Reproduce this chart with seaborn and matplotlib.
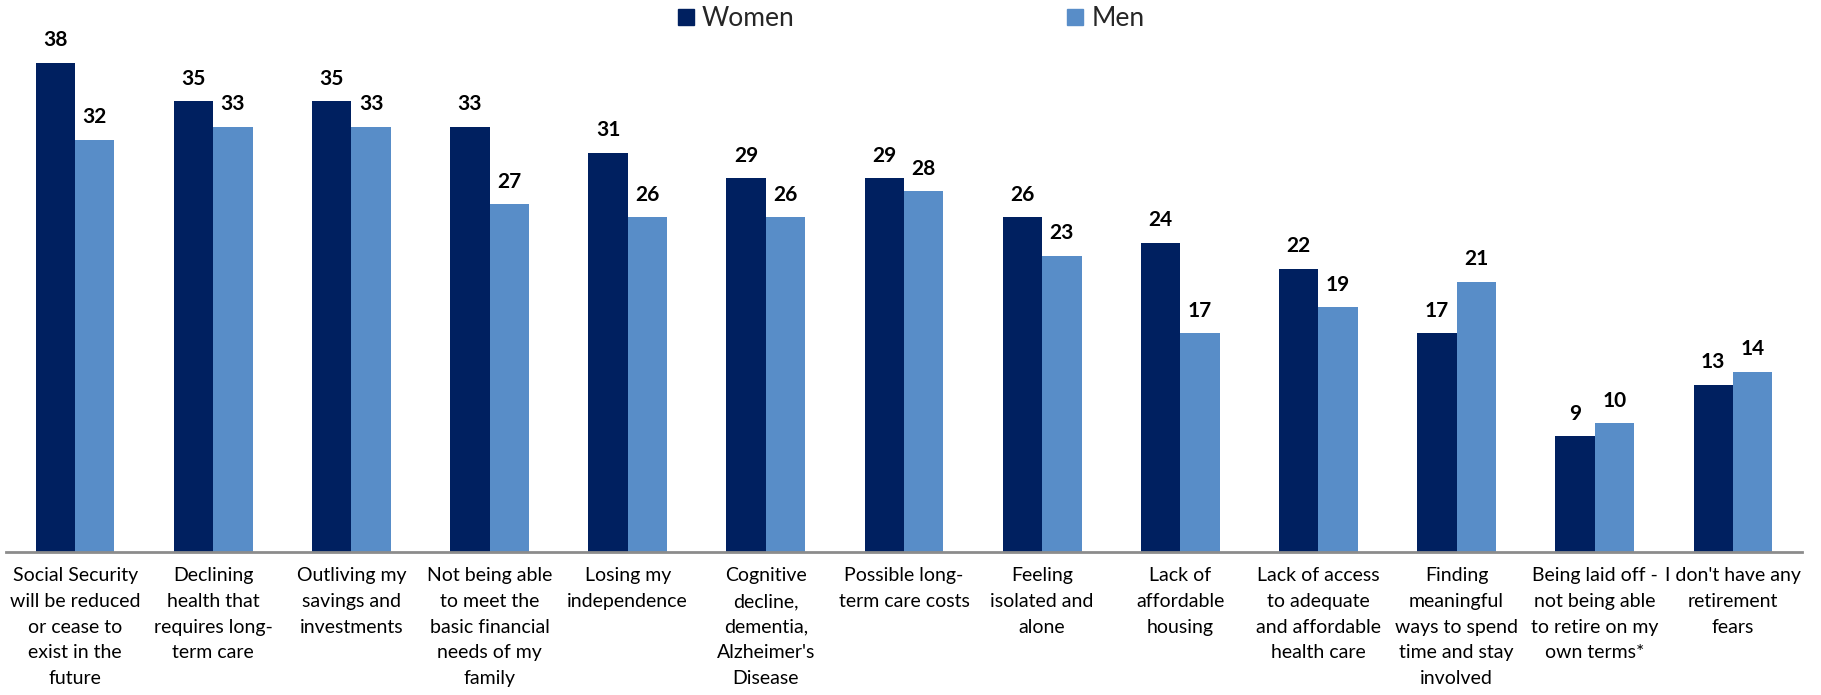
import matplotlib
matplotlib.use("Agg")
import matplotlib.pyplot as plt
import seaborn as sns
import pandas as pd

categories = [
    "Social Security\nwill be reduced\nor cease to\nexist in the\nfuture",
    "Declining\nhealth that\nrequires long-\nterm care",
    "Outliving my\nsavings and\ninvestments",
    "Not being able\nto meet the\nbasic financial\nneeds of my\nfamily",
    "Losing my\nindependence",
    "Cognitive\ndecline,\ndementia,\nAlzheimer's\nDisease",
    "Possible long-\nterm care costs",
    "Feeling\nisolated and\nalone",
    "Lack of\naffordable\nhousing",
    "Lack of access\nto adequate\nand affordable\nhealth care",
    "Finding\nmeaningful\nways to spend\ntime and stay\ninvolved",
    "Being laid off -\nnot being able\nto retire on my\nown terms*",
    "I don't have any\nretirement\nfears",
]
women = [38, 35, 35, 33, 31, 29, 29, 26, 24, 22, 17, 9, 13]
men = [32, 33, 33, 27, 26, 26, 28, 23, 17, 19, 21, 10, 14]
series = ["Women", "Men"]
colors = ["#002060", "#588DC8"]

df = pd.DataFrame({
    "cat": categories * 2,
    "val": women + men,
    "series": ["Women"] * len(women) + ["Men"] * len(men),
})

sns.set_theme(style="white")
plt.rcParams["font.family"] = ["Lato", "DejaVu Sans"]

W, H = 1821, 695
fig = plt.figure(figsize=(W / 100, H / 100), dpi=100)
left_px, right_px, bottom_px, top_px = 6, 1802, 552, 40
ax = fig.add_axes([left_px / W, 1 - bottom_px / H, (right_px - left_px) / W, (bottom_px - top_px) / H])

sns.barplot(data=df, x="cat", y="val", hue="series", hue_order=series,
            palette=colors, saturation=1, width=0.57, gap=0, ax=ax,
            errorbar=None, edgecolor="none", linewidth=0)

for cont in ax.containers:
    ax.bar_label(cont, fmt="%d", padding=9, fontsize=15, fontweight="bold", color="black")

ax.set_xlim(-0.5, len(categories) - 0.5)
ax.set_ylim(0, (bottom_px - top_px) / 12.88)
ax.set_xlabel("")
ax.set_ylabel("")
ax.set_yticks([])
ax.tick_params(axis="x", length=0, pad=11, labelsize=14, colors="black")
for lbl in ax.get_xticklabels():
    lbl.set_linespacing(1.62)
for s in ["top", "right", "left"]:
    ax.spines[s].set_visible(False)
ax.spines["bottom"].set_color("#8c8c8c")
ax.spines["bottom"].set_linewidth(2)

ax.legend_.remove()
handles = [plt.Line2D([], [], marker="s", linestyle="none", markersize=11,
                      markerfacecolor=c, markeredgecolor=c) for c in colors]
fig.legend(handles, series, loc="center", bbox_to_anchor=(0.5, 1 - 19 / H),
           ncol=2, frameon=False, fontsize=19, columnspacing=10.3,
           handletextpad=0.25, handlelength=0.7)

fig.savefig("out.png", dpi=100)
